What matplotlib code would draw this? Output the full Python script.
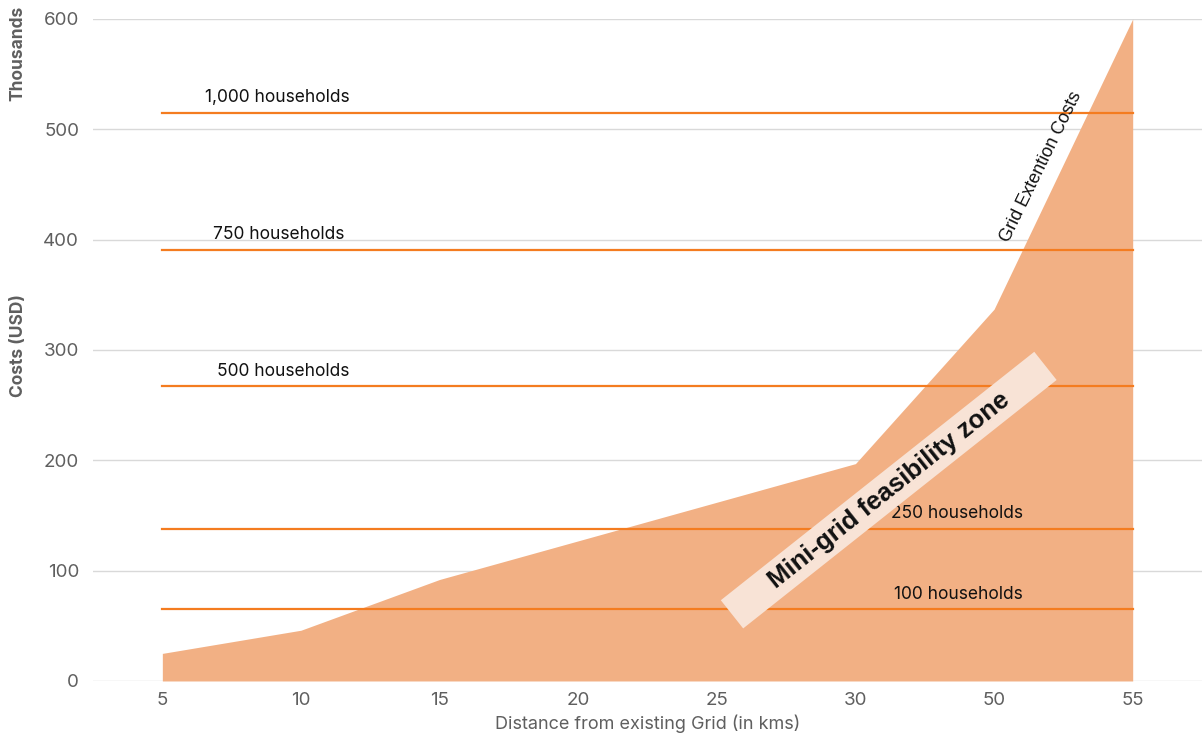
import matplotlib
matplotlib.use("Agg")
import matplotlib.pyplot as plt
from matplotlib.patches import Rectangle
import matplotlib.transforms as mtransforms

plt.rcParams['font.family'] = ['Inter', 'DejaVu Sans']

# data (costs in thousands USD)
distances = ['5', '10', '15', '20', '25', '30', '50', '55']
grid_cost = [25, 46, 92, 127, 162, 197, 337, 600]

household_labels = ['1,000 households', '750 households', '500 households',
                    '250 households', '100 households']
household_cost = [515, 391, 267, 138, 65]
label_pos = [0.83, 0.84, 0.87, 5.73, 5.74]  # category x where label sits

fill_col = '#f2b084'
line_col = '#f47c20'
grey = '#5f5f5f'

fig = plt.figure(figsize=(12.02, 7.44), dpi=100)
ax = fig.add_axes([0.0774, 0.0847, 0.9226, 0.8898])

x = list(range(len(distances)))
ax.fill_between(x, 0, grid_cost, color=fill_col, linewidth=0, zorder=2)

for lab, val, lx in zip(household_labels, household_cost, label_pos):
    ax.plot([x[0], x[-1]], [val, val], color=line_col, lw=1.6, zorder=3)
    ax.text(lx, val + 6, lab, ha='center', va='bottom', fontsize=12.5,
            color='#111111', zorder=4)

# grid extension label along the slope
ax.text(6.34, 466, 'Grid Extention Costs', rotation=64, ha='center',
        va='center', fontsize=13, color='#111111', rotation_mode='anchor',
        family=['Liberation Sans', 'DejaVu Sans'], zorder=4)

ax.set_xlim(-0.5, len(distances) - 0.5)
ax.set_ylim(0, 600)

# feasibility zone band
cx, cy = 5.24, 173
px, py = ax.transData.transform((cx, cy))
band_w, band_h = 400, 36
rect = Rectangle((px - band_w / 2, py - band_h / 2), band_w, band_h,
                 transform=mtransforms.Affine2D().rotate_deg_around(px, py, 38.4),
                 facecolor='#f8e3d6', edgecolor='none', zorder=5, clip_on=False)
ax.add_artist(rect)
ax.text(cx, cy, 'Mini-grid feasibility zone', rotation=38.4, ha='center',
        va='center', fontsize=18.5, fontweight='bold', color='#111111',
        family=['Liberation Sans', 'DejaVu Sans'], rotation_mode='anchor',
        zorder=6)

ax.set_xticks(x)
ax.set_xticklabels(distances)
ax.set_yticks([0, 100, 200, 300, 400, 500, 600])
ax.tick_params(length=0, labelsize=13.5, colors=grey, pad=8)
ax.tick_params(axis='y', pad=10)
ax.grid(axis='y', color='#d9d9d9', lw=1, zorder=0)
ax.set_axisbelow(True)
for s in ax.spines.values():
    s.set_visible(False)

ax.set_xlabel('Distance from existing Grid (in kms)', fontsize=13, color=grey,
              labelpad=4)
fig.text(0.015, 0.535, 'Costs (USD)', rotation=90, ha='center', va='center',
         fontsize=12.5, fontweight='bold', color=grey)
fig.text(0.015, 0.928, 'Thousands', rotation=90, ha='center', va='center',
         fontsize=12.5, fontweight='bold', color=grey)

fig.savefig('out.png', dpi=100)
